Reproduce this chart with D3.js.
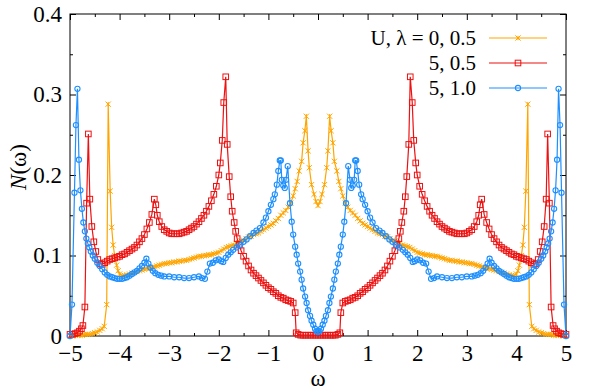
<!DOCTYPE html>
<html>
<head>
<meta charset="utf-8">
<script src="https://cdn.jsdelivr.net/npm/d3@7"></script>
<style>
  body { margin: 0; background: #fff; }
</style>
</head>
<body>
<div id="chart"></div>
<script>
// N(omega) curves as [omega, N] pairs

var orangeData = [
  [-5.00,0.000],[-4.95,0.000],[-4.90,0.001],[-4.85,0.001],[-4.80,0.001],[-4.75,0.001],[-4.70,0.002],[-4.65,0.002],
  [-4.60,0.002],[-4.55,0.003],[-4.50,0.004],[-4.45,0.005],[-4.40,0.007],[-4.35,0.009],[-4.31,0.012],[-4.26,0.039],
  [-4.23,0.288],[-4.19,0.180],[-4.16,0.135],[-4.13,0.113],[-4.10,0.100],[-4.06,0.088],[-4.03,0.081],[-4.00,0.077],
  [-3.95,0.075],[-3.90,0.075],[-3.85,0.076],[-3.80,0.077],[-3.75,0.078],[-3.70,0.079],[-3.65,0.080],[-3.60,0.081],
  [-3.55,0.082],[-3.50,0.083],[-3.45,0.084],[-3.40,0.084],[-3.35,0.085],[-3.30,0.086],[-3.25,0.087],[-3.20,0.088],
  [-3.15,0.089],[-3.10,0.090],[-3.05,0.090],[-3.00,0.091],[-2.95,0.091],[-2.90,0.092],[-2.85,0.092],[-2.80,0.093],
  [-2.75,0.093],[-2.70,0.094],[-2.65,0.094],[-2.60,0.095],[-2.55,0.096],[-2.50,0.097],[-2.45,0.098],[-2.40,0.099],
  [-2.35,0.099],[-2.30,0.100],[-2.25,0.100],[-2.20,0.101],[-2.15,0.101],[-2.10,0.102],[-2.05,0.103],[-2.00,0.104],
  [-1.95,0.106],[-1.90,0.108],[-1.85,0.110],[-1.80,0.111],[-1.75,0.112],[-1.70,0.113],[-1.65,0.115],[-1.60,0.116],
  [-1.55,0.118],[-1.50,0.119],[-1.45,0.121],[-1.40,0.123],[-1.35,0.124],[-1.30,0.126],[-1.25,0.127],[-1.20,0.128],
  [-1.15,0.130],[-1.10,0.132],[-1.05,0.134],[-1.00,0.136],[-0.95,0.138],[-0.90,0.140],[-0.85,0.143],[-0.80,0.146],
  [-0.75,0.150],[-0.70,0.153],[-0.65,0.156],[-0.60,0.160],[-0.55,0.165],[-0.50,0.174],[-0.46,0.183],[-0.42,0.192],
  [-0.38,0.205],[-0.33,0.217],[-0.30,0.240],[-0.265,0.255],[-0.235,0.273],[-0.20,0.230],[-0.175,0.209],[-0.13,0.188],
  [-0.08,0.176],[-0.04,0.167],[0.00,0.162],
  [0.04,0.167],[0.08,0.176],[0.13,0.188],[0.175,0.209],[0.20,0.230],[0.235,0.273],[0.265,0.255],[0.30,0.240],
  [0.33,0.217],[0.38,0.205],[0.42,0.192],[0.46,0.183],[0.50,0.174],[0.55,0.165],[0.60,0.160],[0.65,0.156],
  [0.70,0.153],[0.75,0.150],[0.80,0.146],[0.85,0.143],[0.90,0.140],[0.95,0.138],[1.00,0.136],[1.05,0.134],
  [1.10,0.132],[1.15,0.130],[1.20,0.128],[1.25,0.127],[1.30,0.126],[1.35,0.124],[1.40,0.123],[1.45,0.121],
  [1.50,0.119],[1.55,0.118],[1.60,0.116],[1.65,0.115],[1.70,0.113],[1.75,0.112],[1.80,0.111],[1.85,0.110],
  [1.90,0.108],[1.95,0.106],[2.00,0.104],[2.05,0.103],[2.10,0.102],[2.15,0.101],[2.20,0.101],[2.25,0.100],
  [2.30,0.100],[2.35,0.099],[2.40,0.099],[2.45,0.098],[2.50,0.097],[2.55,0.096],[2.60,0.095],[2.65,0.094],
  [2.70,0.094],[2.75,0.093],[2.80,0.093],[2.85,0.092],[2.90,0.092],[2.95,0.091],[3.00,0.091],[3.05,0.090],
  [3.10,0.090],[3.15,0.089],[3.20,0.088],[3.25,0.087],[3.30,0.086],[3.35,0.085],[3.40,0.084],[3.45,0.084],
  [3.50,0.083],[3.55,0.082],[3.60,0.081],[3.65,0.080],[3.70,0.079],[3.75,0.078],[3.80,0.077],[3.85,0.076],
  [3.90,0.075],[3.95,0.075],[4.00,0.077],[4.03,0.081],[4.06,0.088],[4.10,0.100],[4.13,0.113],[4.16,0.135],
  [4.19,0.180],[4.23,0.288],[4.26,0.039],[4.31,0.012],[4.35,0.009],[4.40,0.007],[4.45,0.005],[4.50,0.004],
  [4.55,0.003],[4.60,0.002],[4.65,0.002],[4.70,0.002],[4.75,0.001],[4.80,0.001],[4.85,0.001],[4.90,0.001],
  [4.95,0.000],[5.00,0.000]
]

var redData = [
  [-5.00,0.002],[-4.95,0.002],[-4.90,0.003],[-4.85,0.004],[-4.81,0.006],[-4.77,0.009],[-4.74,0.013],[-4.70,0.036],
  [-4.665,0.165],[-4.63,0.251],[-4.60,0.170],[-4.56,0.136],[-4.52,0.117],[-4.48,0.105],[-4.44,0.095],[-4.40,0.090],
  [-4.35,0.089],[-4.30,0.091],[-4.25,0.093],[-4.20,0.095],[-4.15,0.096],[-4.10,0.097],[-4.05,0.098],[-4.00,0.099],
  [-3.95,0.101],[-3.90,0.102],[-3.85,0.104],[-3.80,0.106],[-3.75,0.108],[-3.70,0.110],[-3.65,0.113],[-3.60,0.117],
  [-3.55,0.121],[-3.50,0.126],[-3.45,0.133],[-3.40,0.141],[-3.35,0.151],[-3.30,0.170],[-3.27,0.163],[-3.24,0.150],
  [-3.20,0.142],[-3.15,0.136],[-3.10,0.132],[-3.05,0.130],[-3.00,0.128],[-2.95,0.127],[-2.90,0.127],[-2.85,0.127],
  [-2.80,0.127],[-2.75,0.128],[-2.70,0.129],[-2.65,0.130],[-2.60,0.132],[-2.55,0.134],[-2.50,0.136],[-2.45,0.139],
  [-2.40,0.142],[-2.35,0.146],[-2.30,0.150],[-2.25,0.155],[-2.20,0.161],[-2.15,0.168],[-2.10,0.176],[-2.05,0.186],
  [-2.00,0.200],[-1.97,0.215],[-1.93,0.243],[-1.90,0.290],[-1.86,0.322],[-1.83,0.238],[-1.79,0.198],[-1.76,0.173],
  [-1.73,0.155],[-1.69,0.141],[-1.66,0.130],[-1.63,0.121],[-1.59,0.113],[-1.55,0.106],[-1.50,0.099],[-1.45,0.093],
  [-1.40,0.087],[-1.35,0.082],[-1.30,0.078],[-1.25,0.075],[-1.20,0.072],[-1.15,0.069],[-1.10,0.066],[-1.05,0.063],
  [-1.00,0.060],[-0.95,0.058],[-0.90,0.055],[-0.85,0.053],[-0.80,0.050],[-0.75,0.048],[-0.70,0.047],[-0.65,0.045],
  [-0.60,0.044],[-0.55,0.043],[-0.50,0.041],[-0.46,0.029],[-0.44,0.004],[-0.40,0.002],[-0.35,0.001],[-0.30,0.001],
  [-0.25,0.001],[-0.20,0.001],[-0.15,0.001],[-0.10,0.001],[-0.05,0.001],[0.00,0.001],
  [0.05,0.001],[0.10,0.001],[0.15,0.001],[0.20,0.001],[0.25,0.001],[0.30,0.001],[0.35,0.001],[0.40,0.002],
  [0.44,0.004],[0.46,0.029],[0.50,0.041],[0.55,0.043],[0.60,0.044],[0.65,0.045],[0.70,0.047],[0.75,0.048],
  [0.80,0.050],[0.85,0.053],[0.90,0.055],[0.95,0.058],[1.00,0.060],[1.05,0.063],[1.10,0.066],[1.15,0.069],
  [1.20,0.072],[1.25,0.075],[1.30,0.078],[1.35,0.082],[1.40,0.087],[1.45,0.093],[1.50,0.099],[1.55,0.106],
  [1.59,0.113],[1.63,0.121],[1.66,0.130],[1.69,0.141],[1.73,0.155],[1.76,0.173],[1.79,0.198],[1.83,0.238],
  [1.86,0.322],[1.90,0.290],[1.93,0.243],[1.97,0.215],[2.00,0.200],[2.05,0.186],[2.10,0.176],[2.15,0.168],
  [2.20,0.161],[2.25,0.155],[2.30,0.150],[2.35,0.146],[2.40,0.142],[2.45,0.139],[2.50,0.136],[2.55,0.134],
  [2.60,0.132],[2.65,0.130],[2.70,0.129],[2.75,0.128],[2.80,0.127],[2.85,0.127],[2.90,0.127],[2.95,0.127],
  [3.00,0.128],[3.05,0.130],[3.10,0.132],[3.15,0.136],[3.20,0.142],[3.24,0.150],[3.27,0.163],[3.30,0.170],
  [3.35,0.151],[3.40,0.141],[3.45,0.133],[3.50,0.126],[3.55,0.121],[3.60,0.117],[3.65,0.113],[3.70,0.110],
  [3.75,0.108],[3.80,0.106],[3.85,0.104],[3.90,0.102],[3.95,0.101],[4.00,0.099],[4.05,0.098],[4.10,0.097],
  [4.15,0.096],[4.20,0.095],[4.25,0.093],[4.30,0.091],[4.35,0.089],[4.40,0.090],[4.44,0.095],[4.48,0.105],
  [4.52,0.117],[4.56,0.136],[4.60,0.170],[4.63,0.251],[4.665,0.165],[4.70,0.036],[4.74,0.013],[4.77,0.009],
  [4.81,0.006],[4.85,0.004],[4.90,0.003],[4.95,0.002],[5.00,0.002]
]

var blueData = [
  [-5.00,0.000],[-4.96,0.039],[-4.91,0.178],[-4.88,0.262],[-4.85,0.307],[-4.82,0.219],[-4.79,0.181],[-4.76,0.158],
  [-4.73,0.141],[-4.70,0.130],[-4.67,0.121],[-4.64,0.115],[-4.61,0.110],[-4.58,0.105],[-4.54,0.100],[-4.50,0.096],
  [-4.45,0.091],[-4.40,0.087],[-4.35,0.083],[-4.30,0.079],[-4.25,0.076],[-4.20,0.074],[-4.15,0.073],[-4.10,0.072],
  [-4.05,0.071],[-4.00,0.071],[-3.95,0.071],[-3.90,0.072],[-3.85,0.073],[-3.80,0.075],[-3.75,0.077],[-3.70,0.079],
  [-3.65,0.081],[-3.60,0.084],[-3.55,0.087],[-3.50,0.091],[-3.46,0.096],[-3.42,0.090],[-3.38,0.085],[-3.33,0.081],
  [-3.28,0.078],[-3.22,0.076],[-3.16,0.075],[-3.10,0.074],[-3.00,0.074],[-2.90,0.073],[-2.80,0.073],[-2.70,0.072],
  [-2.60,0.072],[-2.50,0.073],[-2.40,0.074],[-2.34,0.072],[-2.28,0.071],[-2.23,0.080],[-2.18,0.090],[-2.12,0.091],
  [-2.06,0.094],[-2.00,0.095],[-1.95,0.093],[-1.91,0.092],[-1.86,0.097],[-1.81,0.101],[-1.76,0.104],[-1.71,0.107],
  [-1.64,0.110],[-1.57,0.113],[-1.50,0.117],[-1.44,0.120],[-1.37,0.124],[-1.30,0.128],[-1.24,0.131],[-1.17,0.134],
  [-1.10,0.141],[-1.05,0.147],[-1.00,0.155],[-0.95,0.163],[-0.90,0.170],[-0.87,0.176],[-0.83,0.188],[-0.80,0.205],
  [-0.77,0.218],[-0.75,0.218],[-0.73,0.194],[-0.70,0.187],[-0.67,0.184],[-0.645,0.194],[-0.61,0.211],[-0.565,0.165],
  [-0.53,0.142],[-0.50,0.126],[-0.46,0.111],[-0.43,0.101],[-0.40,0.090],[-0.36,0.080],[-0.33,0.070],[-0.30,0.059],
  [-0.26,0.049],[-0.23,0.041],[-0.20,0.032],[-0.16,0.025],[-0.13,0.019],[-0.095,0.014],[-0.06,0.009],[-0.03,0.006],
  [0.00,0.005],
  [0.03,0.006],[0.06,0.009],[0.095,0.014],[0.13,0.019],[0.16,0.025],[0.20,0.032],[0.23,0.041],[0.26,0.049],
  [0.30,0.059],[0.33,0.070],[0.36,0.080],[0.40,0.090],[0.43,0.101],[0.46,0.111],[0.50,0.126],[0.53,0.142],
  [0.565,0.165],[0.61,0.211],[0.645,0.194],[0.67,0.184],[0.70,0.187],[0.73,0.194],[0.75,0.218],[0.77,0.218],
  [0.80,0.205],[0.83,0.188],[0.87,0.176],[0.90,0.170],[0.95,0.163],[1.00,0.155],[1.05,0.147],[1.10,0.141],
  [1.17,0.134],[1.24,0.131],[1.30,0.128],[1.37,0.124],[1.44,0.120],[1.50,0.117],[1.57,0.113],[1.64,0.110],
  [1.71,0.107],[1.76,0.104],[1.81,0.101],[1.86,0.097],[1.91,0.092],[1.95,0.093],[2.00,0.095],[2.06,0.094],
  [2.12,0.091],[2.18,0.090],[2.23,0.080],[2.28,0.071],[2.34,0.072],[2.40,0.074],[2.50,0.073],[2.60,0.072],
  [2.70,0.072],[2.80,0.073],[2.90,0.073],[3.00,0.074],[3.10,0.074],[3.16,0.075],[3.22,0.076],[3.28,0.078],
  [3.33,0.081],[3.38,0.085],[3.42,0.090],[3.46,0.096],[3.50,0.091],[3.55,0.087],[3.60,0.084],[3.65,0.081],
  [3.70,0.079],[3.75,0.077],[3.80,0.075],[3.85,0.073],[3.90,0.072],[3.95,0.071],[4.00,0.071],[4.05,0.071],
  [4.10,0.072],[4.15,0.073],[4.20,0.074],[4.25,0.076],[4.30,0.079],[4.35,0.083],[4.40,0.087],[4.45,0.091],
  [4.50,0.096],[4.54,0.100],[4.58,0.105],[4.61,0.110],[4.64,0.115],[4.67,0.121],[4.70,0.130],[4.73,0.141],
  [4.76,0.158],[4.79,0.181],[4.82,0.219],[4.85,0.307],[4.88,0.262],[4.91,0.178],[4.96,0.039],[5.00,0.000]
]

var seriesLabels = ['U, \u03bb = 0, 0.5', '5, 0.5', '5, 1.0']
var seriesColors = ['#ffa500', '#ee1111', '#1e8fff']
var seriesMarkers = ['cross', 'square', 'circle']
var xTicks = [-5, -4, -3, -2, -1, 0, 1, 2, 3, 4, 5]
var xMinor = [-4.5, -3.5, -2.5, -1.5, -0.5, 0.5, 1.5, 2.5, 3.5, 4.5]
var yTicks = [0, 0.1, 0.2, 0.3, 0.4]
var yMinor = [0.05, 0.15, 0.25, 0.35]

var allSeries = [orangeData, redData, blueData]

// --- layout
var W = 589, H = 391
var margin = {top: 14, right: 23, bottom: 55, left: 70}
var width = W - margin.left - margin.right
var height = H - margin.top - margin.bottom
var serif = 'Liberation Serif'

var svg = d3.select('#chart').append('svg')
    .attr('width', W)
    .attr('height', H)

var g = svg.append('g')
    .attr('transform', 'translate(' + margin.left + ',' + margin.top + ')')

var x = d3.scaleLinear().domain([-5, 5]).range([0, width])
var y = d3.scaleLinear().domain([0, 0.4]).range([height, 0])

function fmtMinus(d) {
  return d < 0 ? '\u2212' + Math.abs(d) : String(d)
}

function styleAxis(sel) {
  sel.attr('font-family', serif).attr('font-size', 23)
  sel.select('.domain').remove()
  sel.selectAll('line').attr('stroke', '#000').attr('stroke-width', 1)
  sel.selectAll('text')
    .attr('fill', '#000')
    .style('font-family', serif)
    .style('font-size', '23px')
}

g.append('g')
    .attr('transform', 'translate(0,' + height + ')')
    .call(d3.axisBottom(x).tickValues(xTicks).tickFormat(fmtMinus).tickSize(-6).tickPadding(4))
    .call(styleAxis)
    .selectAll('text').attr('dy', '0.92em')
g.append('g')
    .attr('transform', 'translate(0,' + height + ')')
    .call(d3.axisBottom(x).tickValues(xMinor).tickFormat('').tickSize(-3))
    .call(styleAxis)
g.append('g')
    .call(d3.axisTop(x).tickValues(xTicks).tickFormat('').tickSize(-6))
    .call(styleAxis)
g.append('g')
    .call(d3.axisTop(x).tickValues(xMinor).tickFormat('').tickSize(-3))
    .call(styleAxis)

g.append('g')
    .call(d3.axisLeft(y).tickValues(yTicks).tickFormat(function(d){ return d === 0 ? '0' : d3.format('.1f')(d) }).tickSize(-6).tickPadding(8))
    .call(styleAxis)
g.append('g')
    .call(d3.axisLeft(y).tickValues(yMinor).tickFormat('').tickSize(-3))
    .call(styleAxis)
g.append('g')
    .attr('transform', 'translate(' + width + ',0)')
    .call(d3.axisRight(y).tickValues(yTicks).tickFormat('').tickSize(-6))
    .call(styleAxis)
g.append('g')
    .attr('transform', 'translate(' + width + ',0)')
    .call(d3.axisRight(y).tickValues(yMinor).tickFormat('').tickSize(-3))
    .call(styleAxis)

// frame
g.append('rect')
    .attr('width', width)
    .attr('height', height)
    .attr('fill', 'none')
    .attr('stroke', '#000')
    .attr('stroke-width', 1)

// axis titles
g.append('text')
    .attr('x', width / 2)
    .attr('y', height + 50)
    .attr('text-anchor', 'middle')
    .style('font-family', serif)
    .style('font-size', '23px')
    .text('\u03c9')

var yTitle = svg.append('text')
    .attr('transform', 'translate(26,' + (margin.top + 153) + ') rotate(-90)')
    .attr('text-anchor', 'middle')
    .style('font-family', serif)
    .style('font-size', '23px')
yTitle.append('tspan').style('font-style', 'italic').text('N')
yTitle.append('tspan').text('(\u03c9)')

// markers
function drawMarker(sel, kind, color) {
  if (kind === 'cross') {
    sel.append('path')
      .attr('d', 'M-2.6,-2.6L2.6,2.6M-2.6,2.6L2.6,-2.6M0,-2.2L0,2.2')
      .attr('stroke', color)
      .attr('stroke-width', 1)
      .attr('fill', 'none')
  } else if (kind === 'square') {
    sel.append('rect')
      .attr('x', -2.8).attr('y', -2.8)
      .attr('width', 5.6).attr('height', 5.6)
      .attr('stroke', color)
      .attr('stroke-width', 1)
      .attr('fill', 'none')
  } else {
    sel.append('circle')
      .attr('r', 2.6)
      .attr('stroke', color)
      .attr('stroke-width', 1.1)
      .attr('fill', 'none')
  }
}

var line = d3.line()
    .x(function(d){ return x(d[0]) })
    .y(function(d){ return y(d[1]) })

allSeries.forEach(function(data, i){
  var sg = g.append('g').attr('class', 'series')
  sg.append('path')
      .datum(data)
      .attr('d', line)
      .attr('fill', 'none')
      .attr('stroke', seriesColors[i])
      .attr('stroke-width', 1.2)
  sg.selectAll('g.pt')
      .data(data)
    .enter().append('g')
      .attr('class', 'pt')
      .attr('transform', function(d){ return 'translate(' + x(d[0]) + ',' + y(d[1]) + ')' })
      .each(function(){ drawMarker(d3.select(this), seriesMarkers[i], seriesColors[i]) })
})

// legend
var leg = svg.append('g').attr('class', 'legend')
seriesLabels.forEach(function(label, i){
  var ly = 38 + i * 25
  leg.append('text')
      .attr('x', 476)
      .attr('y', ly + 7)
      .attr('text-anchor', 'end')
      .style('font-family', serif)
      .style('font-size', '21px')
      .text(label)
  leg.append('line')
      .attr('x1', 489).attr('x2', 547)
      .attr('y1', ly).attr('y2', ly)
      .attr('stroke', seriesColors[i])
      .attr('stroke-width', 1.2)
  drawMarker(leg.append('g').attr('transform', 'translate(518,' + ly + ')'), seriesMarkers[i], seriesColors[i])
})
</script>
</body>
</html>
